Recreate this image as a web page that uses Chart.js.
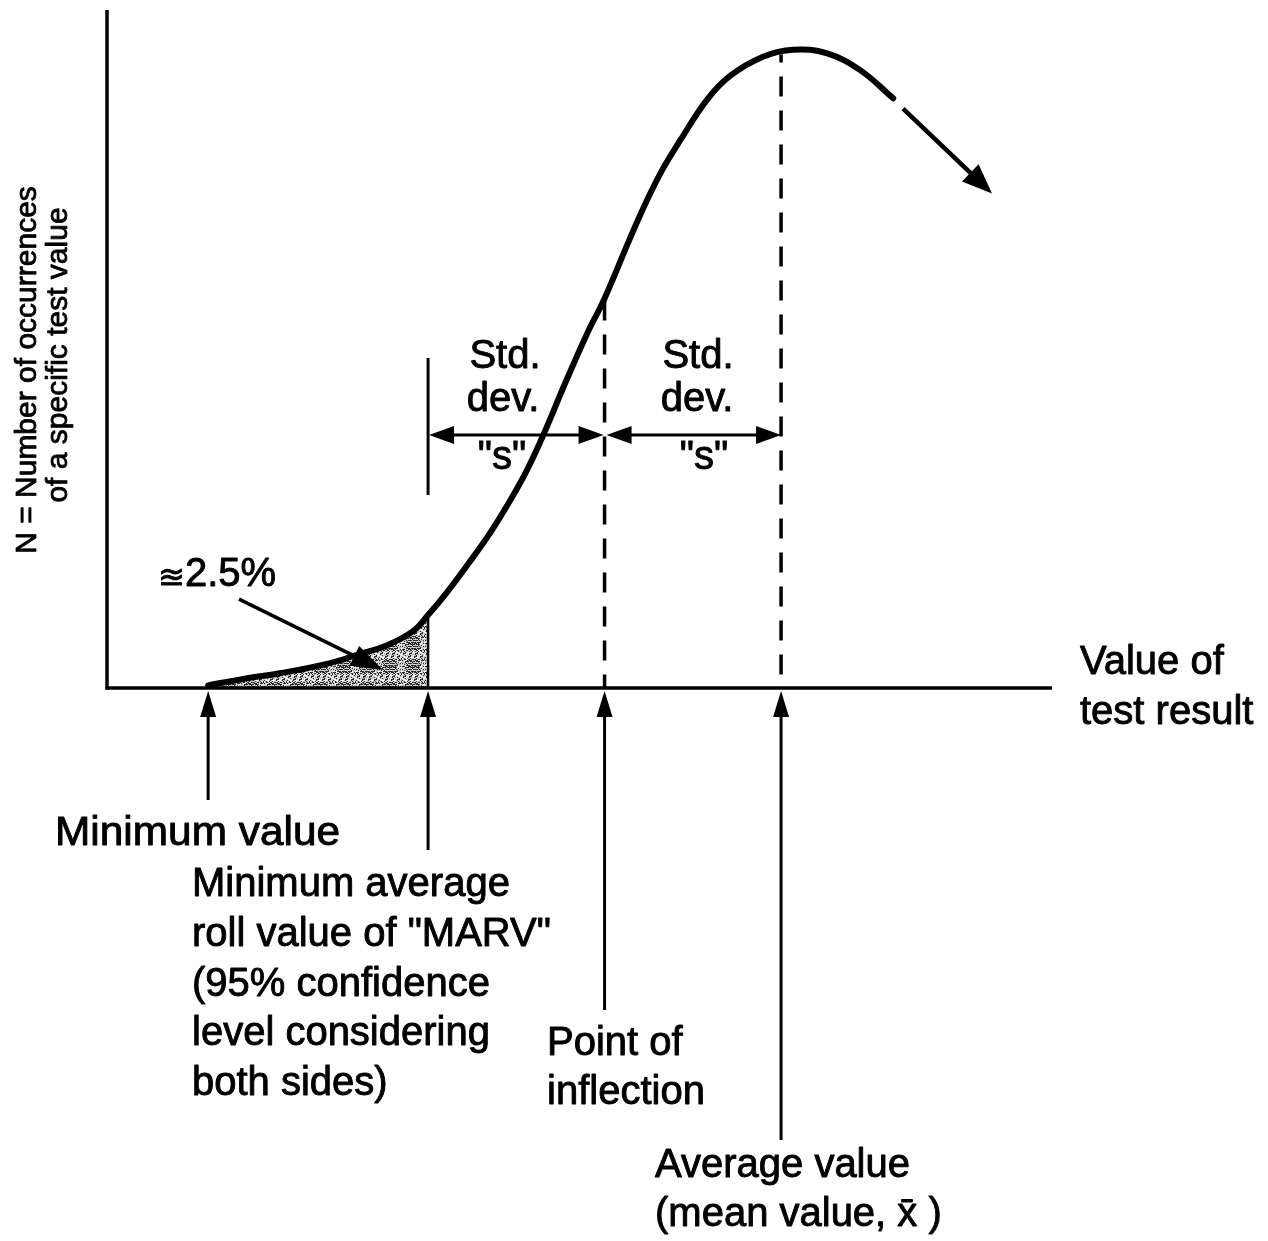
<!DOCTYPE html>
<html lang="en">
<head>
    <meta charset="UTF-8">
    <meta name="viewport" content="width=device-width, initial-scale=1.0">
    <title>MARV - distribution of test results</title>
    <style>
        html, body { margin: 0; padding: 0; background: #fff; }
        #box { width: 1268px; height: 1241px; }
    </style>
</head>
<body>
<div id="box"><canvas id="myChart"></canvas></div>

<script src="https://cdn.jsdelivr.net/npm/chart.js"></script>

<script>
    // curve: x in std. deviations from the mean, y relative to the peak
    const curveX = [-3.246, -3.008, -2.839, -2.555, -2.402, -2.232, -2.085, -2.000, -1.892, -1.762,
                    -1.649, -1.535, -1.439, -1.348, -1.224, -1.099, -1.000, -0.856, -0.759, -0.669,
                    -0.572, -0.419, -0.289, -0.102, 0.068, 0.261, 0.448, 0.635]
    const curveY = [0.004, 0.016, 0.023, 0.039, 0.052, 0.067, 0.089, 0.114, 0.150, 0.198,
                    0.242, 0.293, 0.341, 0.395, 0.476, 0.554, 0.609, 0.703, 0.763, 0.812,
                    0.856, 0.920, 0.957, 0.987, 0.998, 0.992, 0.966, 0.922]

    // marked values on the x axis
    const minValue = -3.246
    const marvValue = -2
    const inflValue = -1
    const meanValue = 0

    // texts
    const yLabel = ['N = Number of occurrences', 'of a specific test value']
    const xLabel = ['Value of', 'test result']
    const minLabel = ['Minimum value']
    const marvLabel = ['Minimum average', 'roll value of "MARV"', '(95% confidence', 'level considering', 'both sides)']
    const inflLabel = ['Point of', 'inflection']
    const meanLabel = ['Average value', '(mean value, x\u0304 )']
    const sdLabel = ['Std.', 'dev.', '"s"']
    const tailLabel = '2.5%'

    const FONT = '"Liberation Sans", Arial, Helvetica, sans-serif'

    const curveAt = (v) => {
        for (let i = 1; i < curveX.length; i++) {
            if (v <= curveX[i]) {
                const t = (v - curveX[i - 1]) / (curveX[i] - curveX[i - 1])
                return curveY[i - 1] + t * (curveY[i] - curveY[i - 1])
            }
        }
        return curveY[curveY.length - 1]
    }

    // grey stipple for the 2.5% tail
    const stipple = () => {
        const n = 23
        const c = document.createElement('canvas')
        c.width = c.height = n
        const g = c.getContext('2d')
        g.fillStyle = '#c4c4c4'
        g.fillRect(0, 0, n, n)
        for (let i = 0; i < n; i++)
            for (let j = 0; j < n; j++) {
                const h = (i * i * 7 + j * j * 13 + i * j * 5 + i * 3) % 17
                if (h < 6) { g.fillStyle = '#2a2a2a'; g.fillRect(i, j, 1, 1) }
                else if (h > 13) { g.fillStyle = '#fff'; g.fillRect(i, j, 1, 1) }
            }
        return g.createPattern(c, 'repeat')
    }

    const line = (ctx, x1, y1, x2, y2, w) => {
        ctx.lineWidth = w
        ctx.beginPath()
        ctx.moveTo(x1, y1)
        ctx.lineTo(x2, y2)
        ctx.stroke()
    }

    const head = (ctx, tx, ty, ang, len, half) => {
        ctx.beginPath()
        ctx.moveTo(tx, ty)
        ctx.lineTo(tx - len * Math.cos(ang) - half * Math.sin(ang), ty - len * Math.sin(ang) + half * Math.cos(ang))
        ctx.lineTo(tx - len * Math.cos(ang) + half * Math.sin(ang), ty - len * Math.sin(ang) - half * Math.cos(ang))
        ctx.closePath()
        ctx.fill()
    }

    const arrow = (ctx, x1, y1, x2, y2, w, len, half, both) => {
        const ang = Math.atan2(y2 - y1, x2 - x1)
        const sx = both ? x1 + (len - 2) * Math.cos(ang) : x1
        const sy = both ? y1 + (len - 2) * Math.sin(ang) : y1
        line(ctx, sx, sy, x2 - (len - 2) * Math.cos(ang), y2 - (len - 2) * Math.sin(ang), w)
        head(ctx, x2, y2, ang, len, half)
        if (both) head(ctx, x1, y1, ang + Math.PI, len, half)
    }

    // text a little heavier, like the printed original
    const say = (ctx, s, x, y) => {
        ctx.strokeText(s, x, y)
        ctx.fillText(s, x, y)
    }
    const lines = (ctx, arr, x, y, step) => arr.forEach((s, i) => say(ctx, s, x, y + i * step))

    const drawings = {
        id: 'drawings',
        afterDatasetsDraw(chart) {
            const {ctx, chartArea: a, scales: {x, y}} = chart
            const X = v => x.getPixelForValue(v)
            const Y = v => y.getPixelForValue(v)
            ctx.save()
            ctx.strokeStyle = '#000'
            ctx.fillStyle = '#000'
            ctx.lineCap = 'butt'

            // axes
            line(ctx, a.left, a.top, a.left, a.bottom + 1.5, 3.5)
            line(ctx, a.left - 1.5, a.bottom, a.right, a.bottom, 3.5)

            // MARV: edge of the tail and the bracket stop
            line(ctx, X(marvValue), Y(curveAt(marvValue)), X(marvValue), a.bottom, 2.5)
            line(ctx, X(marvValue), 358, X(marvValue), 495, 3)

            // dashed verticals
            ctx.setLineDash([20, 14])
            line(ctx, X(inflValue), Y(curveAt(inflValue)) + 2, X(inflValue), a.bottom, 3.5)
            ctx.lineDashOffset = -22
            line(ctx, X(meanValue), Y(curveAt(meanValue)) + 2, X(meanValue), a.bottom, 3.5)
            ctx.setLineDash([])
            ctx.lineDashOffset = 0

            // std. dev. brackets
            const by = 435
            arrow(ctx, X(marvValue) + 1, by, X(inflValue) - 1, by, 3, 25, 9, true)
            arrow(ctx, X(inflValue) + 2, by, X(meanValue), by, 3, 25, 9, true)

            // arrows from the labels up to the axis
            ;[[minValue, 112], [marvValue, 162], [inflValue, 322], [meanValue, 452]].forEach(([v, l]) => {
                arrow(ctx, X(v), a.bottom + l, X(v), a.bottom + 3, 3, 26, 8, false)
            })

            // curve continues
            arrow(ctx, X(0.691), Y(0.906), X(1.195), Y(0.773), 4.5, 30, 12, false)
            // pointer to the tail
            arrow(ctx, X(-3.071), Y(0.139), X(-2.255), Y(0.028), 3.5, 32, 11, false)

            // texts
            ctx.lineWidth = 0.9
            ctx.lineJoin = 'round'
            ctx.textBaseline = 'alphabetic'
            ctx.textAlign = 'left'
            ctx.font = '40px ' + FONT
            ctx.save()
            ctx.translate(55, 845)
            ctx.scale(1.06, 1)
            lines(ctx, minLabel, 0, 0, 50)
            ctx.restore()
            lines(ctx, marvLabel, 192, 896, 49.8)
            lines(ctx, inflLabel, 547, 1055, 49)
            lines(ctx, meanLabel, 655, 1177, 49)
            lines(ctx, xLabel, 1080, 674, 50)
            say(ctx, tailLabel, 185, 586)
            ctx.font = '32px "DejaVu Sans", ' + FONT
            ctx.textAlign = 'right'
            say(ctx, '\u224A', 185, 588)

            ctx.font = '40px ' + FONT
            ctx.textAlign = 'center'
            say(ctx, sdLabel[0], 505, 368)
            say(ctx, sdLabel[1], 503, 411)
            say(ctx, sdLabel[2], 502, 469)
            say(ctx, sdLabel[0], 698, 368)
            say(ctx, sdLabel[1], 697, 411)
            say(ctx, sdLabel[2], 704, 469)

            // y axis title
            ctx.font = '30px ' + FONT
            ctx.lineWidth = 0.8
            ctx.save()
            ctx.translate(36, 370)
            ctx.rotate(-Math.PI / 2)
            say(ctx, yLabel[0], 0, 0)
            ctx.restore()
            ctx.save()
            ctx.translate(67, 355)
            ctx.rotate(-Math.PI / 2)
            say(ctx, yLabel[1], 0, 0)
            ctx.restore()

            ctx.restore()
        }
    }

    const points = curveX.map((v, i) => ({x: v, y: curveY[i]}))
    const tailPoints = points.filter(p => p.x <= marvValue)

    const ctx = document.getElementById('myChart')
    const myChart = new Chart(ctx, {
        type: 'line',
        data: {
            datasets: [{
                label: 'distribution',
                data: points,
                borderColor: '#000',
                borderWidth: 6,
                borderCapStyle: 'round',
                pointRadius: 0,
                tension: 0.4,
                fill: false
            }, {
                label: 'tail',
                data: tailPoints,
                borderWidth: 0,
                pointRadius: 0,
                tension: 0.4,
                backgroundColor: stipple(),
                fill: 'origin'
            }]
        },
        options: {
            responsive: true,
            maintainAspectRatio: false,
            animation: false,
            layout: { padding: { left: 107, top: 10, right: 216, bottom: 553 } },
            scales: {
                x: { type: 'linear', min: -3.819, max: 1.535, display: false },
                y: { min: 0, max: 1.06, display: false }
            },
            plugins: {
                legend: { display: false },
                tooltip: { enabled: false }
            }
        },
        plugins: [drawings]
    })
</script>
</body>
</html>
